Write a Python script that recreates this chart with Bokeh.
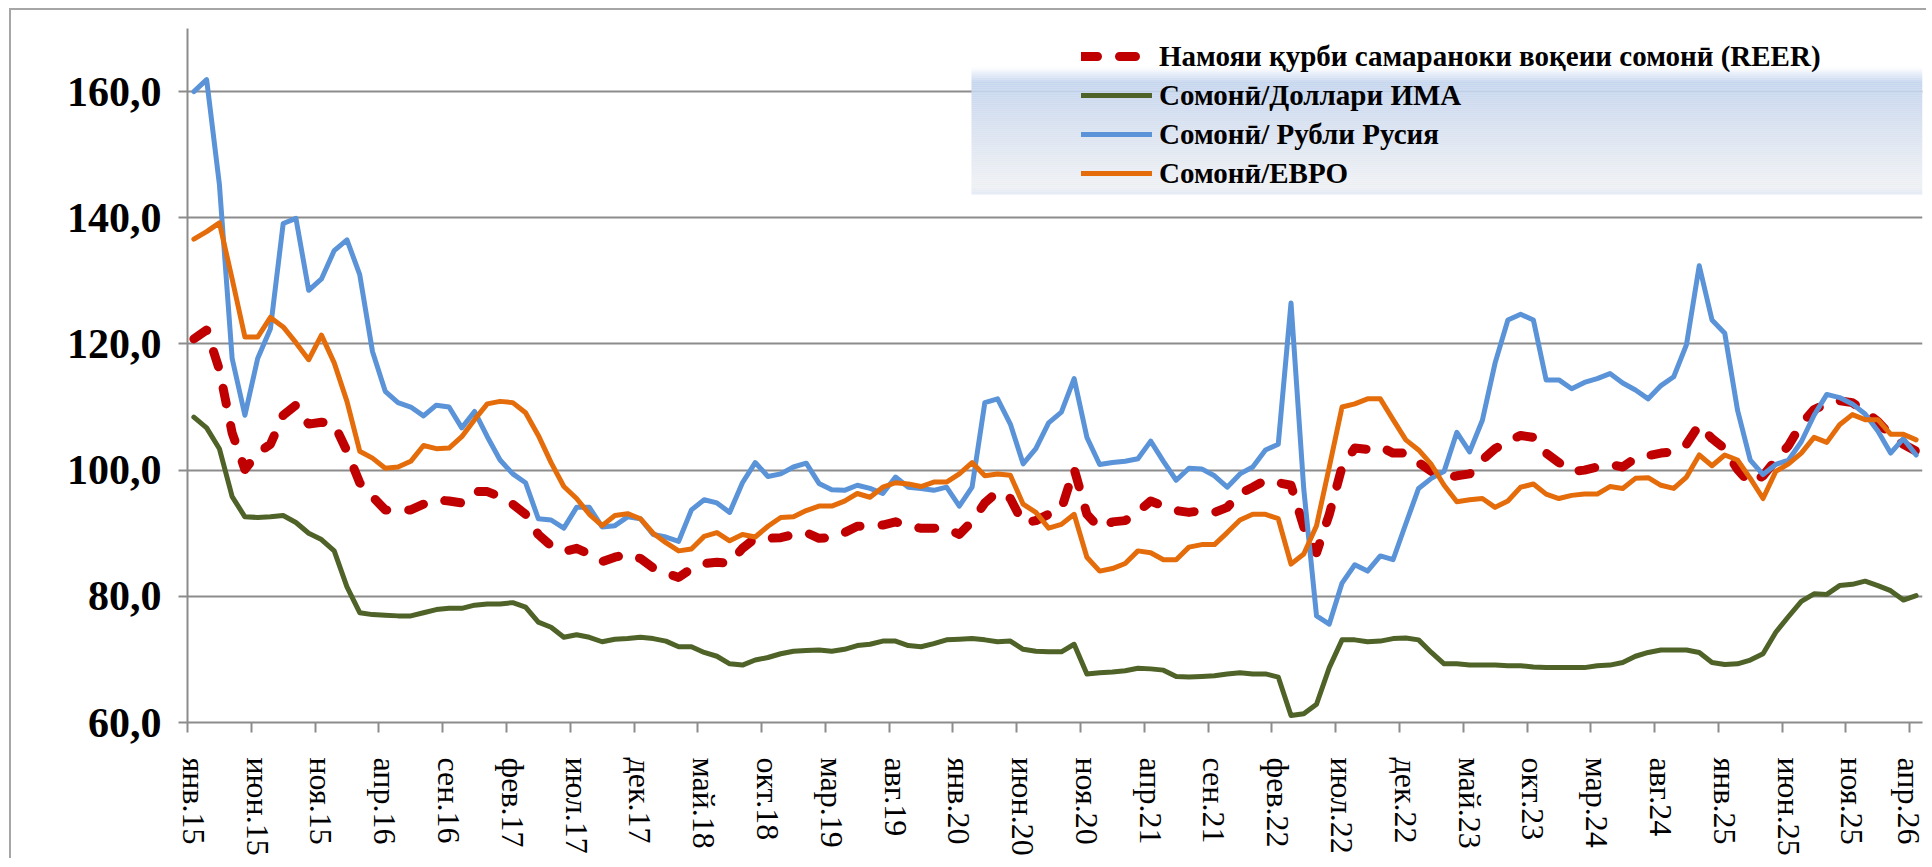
import numpy as np
from bokeh.plotting import figure
from bokeh.models import Range1d, FixedTicker, Legend, LegendItem, BoxAnnotation
from bokeh.embed import file_html
from bokeh.resources import INLINE

# ---------------- data ----------------
tick_labels = ["янв.15", "июн.15", "ноя.15", "апр.16", "сен.16", "фев.17", "июл.17",
               "дек.17", "май.18", "окт.18", "мар.19", "авг.19", "янв.20", "июн.20",
               "ноя.20", "апр.21", "сен.21", "фев.22", "июл.22", "дек.22", "май.23",
               "окт.23", "мар.24", "авг.24", "янв.25", "июн.25", "ноя.25", "апр.26"]

reer = [120.8, 122.2, 115.9, 105.9, 100.1, 102.7, 104.1, 108.7, 110.3, 107.3,
        107.6, 107.3, 103.0, 98.0, 95.8, 93.7, 93.6, 93.7, 94.6, 95.3,
        95.1, 94.8, 96.6, 96.6, 95.8, 94.6, 93.0, 89.8, 88.0, 87.1,
        87.6, 86.7, 85.5, 86.2, 86.7, 86.0, 84.5, 83.7, 83.0, 84.4,
        85.2, 85.4, 85.2, 87.6, 89.2, 89.2, 89.3, 89.8, 90.1, 89.2,
        89.3, 90.1, 91.1, 91.2, 91.3, 91.8, 91.1, 90.8, 90.8, 90.8,
        89.8, 91.9, 94.8, 96.6, 95.5, 91.6, 92.0, 93.0, 93.8, 100.2,
        93.0, 90.8, 91.8, 92.0, 93.4, 95.1, 94.3, 93.6, 93.3, 93.6,
        93.3, 94.1, 96.3, 97.3, 98.4, 98.0, 97.6, 91.0, 86.9, 93.0,
        100.5, 103.5, 103.3, 103.7, 102.7, 102.7, 101.2, 99.8, 98.7, 99.1,
        99.4, 101.6, 103.4, 104.6, 105.5, 105.2, 102.7, 101.2, 99.8, 100.0,
        100.5, 100.9, 100.5, 101.9, 102.3, 102.7, 102.9, 104.1, 107.2, 105.0,
        103.4, 100.1, 97.9, 99.1, 101.6, 103.9, 107.3, 109.6, 110.5, 111.0,
        110.7, 109.3, 107.7, 105.5, 104.1, 103.0]

usd = [108.4, 106.7, 103.4, 95.8, 92.6, 92.5, 92.6, 92.8, 91.7, 90.0,
       89.0, 87.2, 81.5, 77.4, 77.1, 77.0, 76.9, 76.9, 77.4, 77.9,
       78.1, 78.1, 78.6, 78.8, 78.8, 79.0, 78.3, 75.9, 75.1, 73.5,
       73.9, 73.5, 72.8, 73.2, 73.3, 73.5, 73.3, 72.9, 72.0, 72.0,
       71.1, 70.5, 69.3, 69.1, 69.9, 70.3, 70.9, 71.3, 71.4, 71.5,
       71.3, 71.6, 72.2, 72.4, 72.9, 72.9, 72.2, 72.0, 72.5, 73.1,
       73.2, 73.3, 73.1, 72.8, 72.9, 71.6, 71.3, 71.2, 71.2, 72.4,
       67.7, 67.9, 68.0, 68.2, 68.6, 68.5, 68.3, 67.3, 67.2, 67.3,
       67.4, 67.7, 67.9, 67.7, 67.7, 67.2, 61.1, 61.4, 62.9, 68.7,
       73.1, 73.1, 72.8, 72.9, 73.3, 73.4, 73.1, 71.1, 69.3, 69.3,
       69.1, 69.1, 69.1, 69.0, 69.0, 68.8, 68.7, 68.7, 68.7, 68.7,
       69.0, 69.1, 69.5, 70.5, 71.1, 71.5, 71.5, 71.5, 71.1, 69.5,
       69.2, 69.3, 69.9, 70.9, 74.3, 76.8, 79.2, 80.4, 80.3, 81.7,
       81.9, 82.4, 81.7, 80.9, 79.4, 80.1]

rub = [160.0, 161.9, 145.3, 117.7, 108.7, 117.7, 122.4, 139.1, 139.9, 128.5,
       130.3, 134.8, 136.5, 131.0, 118.8, 112.5, 110.7, 110.0, 108.6, 110.3,
       110.0, 106.7, 109.3, 105.3, 101.6, 99.4, 98.0, 92.3, 92.1, 90.8,
       94.1, 94.1, 91.0, 91.2, 92.6, 92.3, 89.8, 89.4, 88.7, 93.7,
       95.3, 94.8, 93.3, 98.0, 101.2, 99.0, 99.4, 100.5, 101.1, 97.9,
       96.9, 96.8, 97.6, 97.1, 96.3, 98.9, 97.3, 97.1, 96.8, 97.3,
       94.3, 97.3, 110.7, 111.3, 107.3, 101.0, 103.4, 107.5, 109.2, 114.5,
       105.2, 100.9, 101.2, 101.4, 101.8, 104.6, 101.4, 98.4, 100.3, 100.2,
       99.1, 97.3, 99.4, 100.5, 103.2, 104.1, 126.5, 97.0, 76.9, 75.6,
       82.1, 85.0, 84.0, 86.4, 85.8, 91.5, 97.1, 98.7, 99.8, 106.0,
       102.9, 107.9, 117.0, 123.8, 124.7, 123.8, 114.3, 114.3, 112.9, 113.9,
       114.5, 115.3, 113.8, 112.7, 111.3, 113.4, 114.8, 119.9, 132.4, 123.8,
       121.7, 109.5, 101.6, 99.3, 100.9, 101.6, 104.5, 108.7, 112.0, 111.5,
       110.5, 108.9, 106.2, 102.7, 105.0, 102.4]

eur = [136.6, 137.8, 139.2, 130.3, 121.1, 121.1, 124.2, 122.7, 120.2, 117.5,
       121.4, 117.0, 110.9, 103.0, 101.9, 100.3, 100.5, 101.4, 103.9, 103.4,
       103.5, 105.3, 108.0, 110.5, 110.9, 110.7, 109.1, 105.5, 101.2, 97.4,
       95.5, 93.0, 91.2, 92.8, 93.1, 92.3, 90.0, 88.5, 87.2, 87.5,
       89.5, 90.1, 88.8, 89.8, 89.4, 91.1, 92.5, 92.6, 93.6, 94.3,
       94.3, 95.1, 96.3, 95.7, 97.3, 98.0, 97.8, 97.4, 98.1, 98.1,
       99.4, 101.2, 99.1, 99.4, 99.2, 94.6, 93.3, 90.8, 91.4, 93.0,
       86.2, 84.0, 84.4, 85.2, 87.2, 86.9, 85.8, 85.8, 87.8, 88.2,
       88.2, 90.1, 92.1, 93.0, 93.0, 92.3, 85.1, 86.7, 91.2, 100.5,
       110.0, 110.5, 111.3, 111.3, 108.0, 104.8, 103.2, 100.9, 97.6, 95.0,
       95.3, 95.5, 94.1, 95.1, 97.3, 97.8, 96.2, 95.5, 96.0, 96.2,
       96.2, 97.4, 97.1, 98.7, 98.8, 97.6, 97.1, 98.9, 102.4, 100.7,
       102.4, 101.6, 98.7, 95.5, 99.8, 101.0, 102.7, 105.2, 104.4, 107.2,
       108.8, 108.0, 108.0, 105.7, 105.7, 104.8]

y_ticks = [60, 80, 100, 120, 140, 160]
names = ["Намояи қурби самараноки воқеии сомонӣ (REER)",
         "Сомонӣ/Доллари ИМА",
         "Сомонӣ/ Рубли Русия",
         "Сомонӣ/ЕВРО"]

# ---------------- figure ----------------
n = len(reer)
x = list(range(n))
GRAY = "#8c8c8c"

p = figure(frame_width=1735, frame_height=694, output_backend="svg", toolbar_location=None,
           x_range=Range1d(-0.5, n - 0.5), y_range=Range1d(60, 170),
           min_border_left=176, min_border_right=4, min_border_top=18, min_border_bottom=120,
           background_fill_color="white", border_fill_color="white",
           outline_line_color=None)
p.styles = {"margin-left": "9px", "margin-top": "8px",
            "border-left": "2px solid #a6a6a6", "border-top": "2px solid #a6a6a6"}

# grid
p.xgrid.visible = False
p.ygrid.ticker = FixedTicker(ticks=y_ticks)
p.ygrid.grid_line_color = GRAY
p.ygrid.grid_line_width = 2

# y axis
p.yaxis.ticker = FixedTicker(ticks=y_ticks)
p.yaxis.major_label_overrides = {v: f"{v},0" for v in y_ticks}
p.yaxis.axis_line_color = GRAY
p.yaxis.axis_line_width = 2
p.yaxis.major_tick_line_color = GRAY
p.yaxis.major_tick_line_width = 2
p.yaxis.major_tick_out = 9
p.yaxis.major_tick_in = 0
p.yaxis.minor_tick_line_color = None
p.yaxis.major_label_text_font = "Liberation Serif"
p.yaxis.major_label_text_font_style = "bold"
p.yaxis.major_label_text_font_size = "42px"
p.yaxis.major_label_text_color = "black"
p.yaxis.major_label_standoff = 17

# x axis: labels centred on months, tick marks on month boundaries
major_x = list(range(0, n, 5))
minor_x = [t - 0.5 for t in major_x]
p.xaxis.ticker = FixedTicker(ticks=major_x, minor_ticks=minor_x)
p.xaxis.major_label_overrides = {t: lbl for t, lbl in zip(major_x, tick_labels)}
p.xaxis.axis_line_color = GRAY
p.xaxis.axis_line_width = 2
p.xaxis.major_tick_out = 0
p.xaxis.major_tick_in = 0
p.xaxis.minor_tick_out = 10
p.xaxis.minor_tick_in = 0
p.xaxis.minor_tick_line_color = GRAY
p.xaxis.minor_tick_line_width = 2
p.xaxis.major_label_orientation = "vertical"
p.xaxis.major_label_text_font = "Liberation Serif"
p.xaxis.major_label_text_font_size = "32px"
p.xaxis.major_label_text_color = "black"
p.xaxis.major_label_standoff = 25

# legend background: vertical gradient made of thin bands
def py2val(py):
    return 60 + (722 - py) * 110 / 694

stops = [(67, (255, 255, 255)), (82, (198, 214, 238)), (120, (214, 224, 240)),
         (175, (235, 238, 243)), (186, (238, 240, 243)), (194, (226, 233, 245))]
box_left = -0.5 + (971 - 187) * n / 1735
ys = np.arange(67, 194, 2.0)
for y0 in ys:
    ym = y0 + 1
    for (a, ca), (b, cb) in zip(stops[:-1], stops[1:]):
        if a <= ym <= b:
            t = (ym - a) / (b - a)
            c = tuple(int(round(ca[k] + (cb[k] - ca[k]) * t)) for k in range(3))
            break
    p.add_layout(BoxAnnotation(left=box_left, right=n - 0.5,
                               top=py2val(y0), bottom=py2val(min(y0 + 2.2, 194)),
                               fill_color="#%02x%02x%02x" % c, fill_alpha=1.0,
                               line_color=None))

# series
r1 = p.line(x, reer, line_color="#c00000", line_width=9, line_dash="16 22",
            line_cap="round", line_join="round")
r2 = p.line(x, usd, line_color="#4f6228", line_width=5, line_join="round", line_cap="round")
r3 = p.line(x, rub, line_color="#5a93d7", line_width=5, line_join="round", line_cap="round")
r4 = p.line(x, eur, line_color="#e46c0a", line_width=5, line_join="round", line_cap="round")

legend = Legend(items=[LegendItem(label=nm, renderers=[r]) for nm, r in zip(names, [r1, r2, r3, r4])],
                location=(894, 531), orientation="vertical", padding=0, margin=0,
                spacing=3, glyph_width=71, glyph_height=36, label_height=36,
                label_standoff=7, label_text_font="Liberation Serif",
                label_text_font_style="bold", label_text_font_size="29px",
                label_text_color="black",
                background_fill_alpha=0, border_line_alpha=0)
p.add_layout(legend)

open("out.html", "w").write(file_html(p, INLINE))
